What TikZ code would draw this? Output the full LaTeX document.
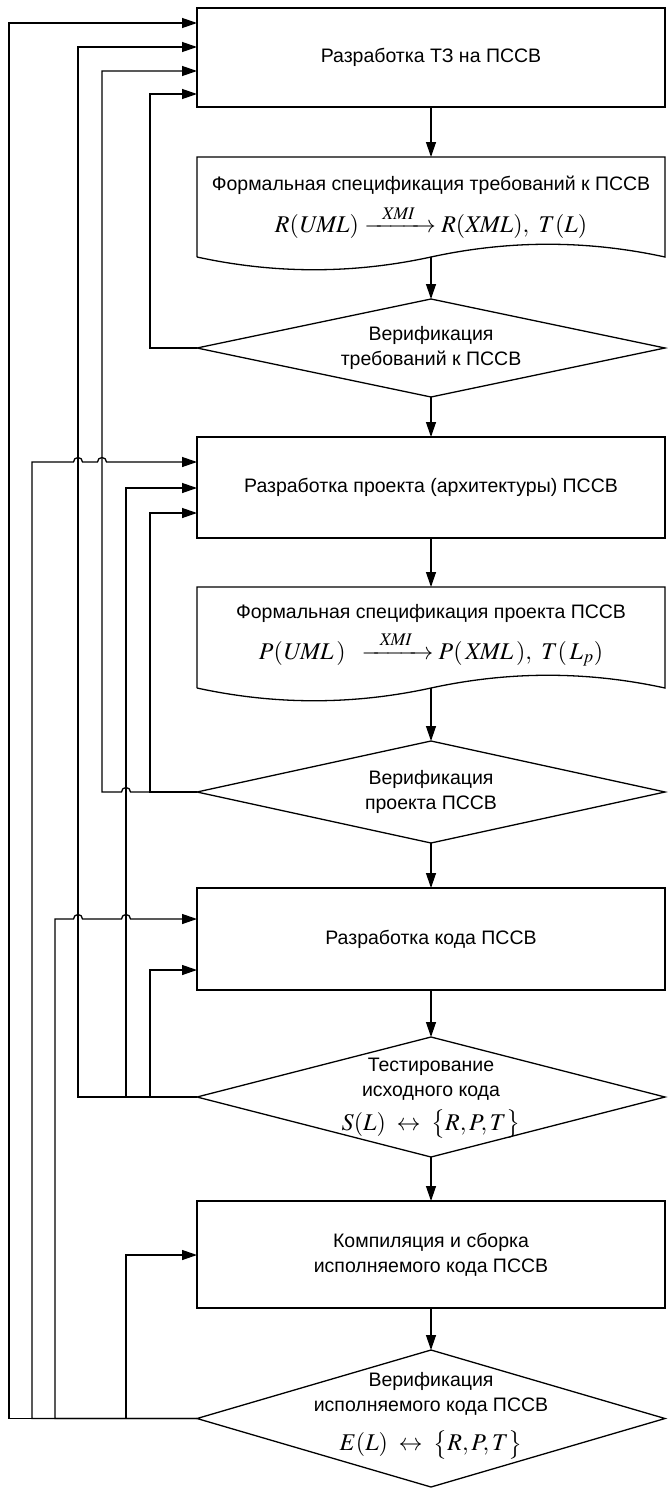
\documentclass[tikz,border=0pt]{standalone}
\usepackage{amsmath}
\usepackage{mathptmx}
\usepackage[no-math]{fontspec}
\setmainfont{Liberation Sans}
\usetikzlibrary{shapes.geometric,arrows.meta}

\newcommand{\fml}[1]{{\fontsize{24}{28}\selectfont$#1$}}

\begin{document}
\begin{tikzpicture}[x=1pt, y=-1pt, line width=1.3pt, >={Triangle[length=15pt,width=10pt]}]
	\tikzstyle{every node} = [font=\fontsize{19.5}{25}\selectfont, align=center, inner sep=0, outer sep=0]
	\tikzstyle{block} = [draw, rectangle, minimum width=468pt, minimum height=100pt]
	\tikzstyle{docum} = [rectangle, minimum width=468pt, minimum height=100pt]
	\tikzstyle{check} = [draw, diamond, minimum width=468pt]
\useasboundingbox (0,0) rectangle (667,1488);

\node[block, minimum height=99pt] (tz) at (431,57.5) {Разработка ТЗ на ПССВ};
\node[docum] (fReq) at (431,207) {};
\node (fReqTxt) at (431,213) {Формальная спецификация требований к ПССВ\\[9pt]
	\fml{R(\mathit{UML})\xrightarrow[\hphantom{\mathit{XMIXM}}]{\mathit{XMI}}R(\mathit{XML}),\ T(L)}};
\node[check, minimum height=98pt] (vReq) at (431,348) {};
\node at (vReq) {Верификация\\требований  к ПССВ};

\node[block, minimum height=101pt] (prj) at (431,487.5) {Разработка проекта (архитектуры)  ПССВ};
\node[docum, minimum height=101pt] (fPrj) at (431,637.5) {};
\node (fPrjTxt) at (431,640) {Формальная спецификация проекта ПССВ\\[8pt]
	\fml{P(\mathit{UML}\,)\;\;\xrightarrow[\hphantom{\mathit{XMIXM}}]{\mathit{XMI}}P(\,\mathit{XML}\,),\ T(\,L_p)}};
\node[check, minimum height=102pt] (vPrj) at (431,792) {};
\node at (vPrj) {Верификация\\проекта ПССВ};

\node[block, minimum height=102pt] (code) at (431,939) {Разработка кода ПССВ};
\node[check, minimum height=120pt] (tst) at (431,1097) {};
\node at (431,1098) {Тестирование\\исходного кода\\[9pt]
	\fml{S(L)\;\leftrightarrow\;\bigl\{R,P,T\bigr\}}};

\node[block, minimum height=107pt] (build) at (431,1254.5) {Компиляция и сборка\\исполняемого кода  ПССВ};
\node[check, minimum height=137pt] (vExe) at (431,1418.5) {};
\node at (431,1416) {Верификация\\исполняемого кода ПССВ\\[14pt]
	\fml{E(L)\;\leftrightarrow\;\bigl\{R,P,T\bigr\}}};

	\draw (fReq.south west) -- (fReq.north west) -- (fReq.north east) -- (fReq.south east)
		.. controls +(-78,-17) and +(78,-17) .. (fReq.south)
		.. controls +(-78,17) and +(78,17) .. (fReq.south west);
	\draw (fPrj.south west) -- (fPrj.north west) -- (fPrj.north east) -- (fPrj.south east)
		.. controls +(-78,-17) and +(78,-17) .. (fPrj.south)
		.. controls +(-78,17) and +(78,17) .. (fPrj.south west);

	\draw[->] (tz) -- (fReq);
	\draw[->] (fReq.south) -- (vReq);
	\draw[->] (vReq) -- (prj);
	\draw[->] (prj) -- (fPrj);
	\draw[->] (fPrj.south) -- (vPrj);
	\draw[->] (vPrj) -- (code);
	\draw[->] (code) -- (tst);
	\draw[->] (tst) -- (build);
	\draw[->] (build) -- (vExe);

\coordinate (tz1) at (197,23);
\coordinate (tz2) at (197,47);
\coordinate (tz3) at (197,71);
\coordinate (tz4) at (197,94);
\coordinate (prj1) at (197,462);
\coordinate (prj2) at (197,488);
\coordinate (prj3) at (197,513);
\coordinate (code1) at (197,919);
\coordinate (code2) at (197,970);
\coordinate (build1) at (197,1255);

	\draw[->] (vReq.west) -- ++(-47,0) |- (tz4);

	\draw[->] (vPrj.west) -- (130.5,792) arc[start angle=0, end angle=-180, radius=4.5] -- (102,792) |- (tz3);
	\draw[->] (vPrj.west) -- ++(-47,0) |- (prj3);

	\draw[->] (tst.west) -- ++(-119,0) |- (tz2);
	\draw[->] (tst.west) -- ++(-71,0) |- (prj2);
	\draw[->] (tst.west) -- ++(-47,0) |- (code2);

	\draw[->] (vExe.west) -- ++(-188,0) |- (tz1);
	\draw[->] (vExe.west) -- (32,1418.5) -- (32,462) -- (73.5,462) arc[start angle=180, end angle=360, radius=4.5]
		-- (97.5,462) arc[start angle=180, end angle=360, radius=4.5] -- (prj1);
	\draw[->] (vExe.west) -- (55,1418.5) -- (55,919) -- (73.5,919) arc[start angle=180, end angle=360, radius=4.5]
		-- (121.5,919) arc[start angle=180, end angle=360, radius=4.5] -- (code1);
	\draw[->] (vExe.west) -- ++(-71,0) |- (build1);
\end{tikzpicture}
\end{document}
